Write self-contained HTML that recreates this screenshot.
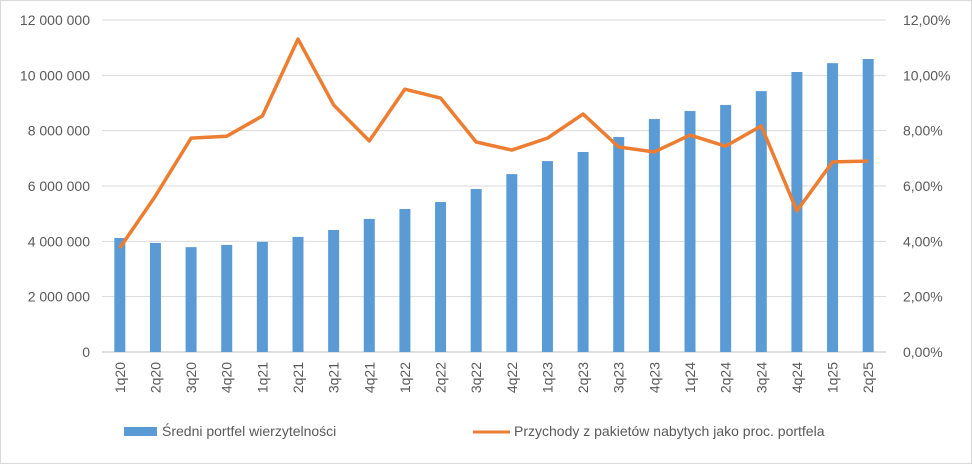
<!DOCTYPE html>
<html><head><meta charset="utf-8"><style>
html,body{margin:0;padding:0;background:#fff}
svg{display:block;font-family:"Liberation Sans",sans-serif}
</style></head><body>
<svg id="chart" width="972" height="464" viewBox="0 0 972 464">
<rect x="0.5" y="0.5" width="971" height="463" fill="#fff" stroke="#d9d9d9"/>
<g id="grid"></g>
<g id="bars"></g>
<g id="line"></g>
<g id="yl"></g>
<g id="yr"></g>
<g id="xl"></g>
<g>
<g><rect x="124" y="427" width="33" height="9" fill="#5b9bd5"/><text x="162" y="436" font-size="14" fill="#595959">Średni portfel wierzytelności</text></g>
<g><line x1="473" y1="432" x2="510" y2="432" stroke="#ed7d31" stroke-width="3"/><text x="514" y="436" font-size="14" fill="#595959">Przychody z pakietów nabytych jako proc. portfela</text></g>
</g>
</svg>
<script>
const categories=["1q20","2q20","3q20","4q20","1q21","2q21","3q21","4q21","1q22","2q22","3q22","4q22","1q23","2q23","3q23","4q23","1q24","2q24","3q24","4q24","1q25","2q25"];
const portfolio=[4120000,3940000,3790000,3870000,3980000,4160000,4410000,4810000,5170000,5420000,5890000,6430000,6900000,7230000,7770000,8420000,8710000,8930000,9430000,10120000,10440000,10590000];
const revenuePct=[3.76,5.64,7.73,7.8,8.53,11.31,8.93,7.63,9.5,9.18,7.59,7.3,7.73,8.6,7.41,7.23,7.84,7.44,8.17,5.1,6.87,6.9];
const leftTicks=[0,2000000,4000000,6000000,8000000,10000000,12000000];
const leftLabels=["0","2 000 000","4 000 000","6 000 000","8 000 000","10 000 000","12 000 000"];
const rightTicks=[0,2,4,6,8,10,12];
const rightLabels=["0,00%","2,00%","4,00%","6,00%","8,00%","10,00%","12,00%"];
const NS="http://www.w3.org/2000/svg";
const X0=102,X1=886,Y0=352,Y1=20;
const step=(X1-X0)/categories.length;
const xc=i=>X0+step*(i+0.5);
const yL=v=>Y0-(v/12000000)*(Y0-Y1);
const yR=v=>Y0-(v/12)*(Y0-Y1);
function mk(tag,attrs,parent){const e=document.createElementNS(NS,tag);for(const k in attrs)e.setAttribute(k,attrs[k]);document.getElementById(parent).appendChild(e);return e;}
leftTicks.forEach((t,i)=>{
 const g=mk('line',{x1:X0,x2:X1,y1:yL(t),y2:yL(t),stroke:i===0?'#bfbfbf':'#d9d9d9','stroke-width':1},'grid');
 
 
 const l=mk('text',{x:90,y:yL(t)+5,'text-anchor':'end','font-size':14,fill:'#595959'},'yl');
 l.textContent=leftLabels[i];
 
 
});
rightTicks.forEach((t,i)=>{
 const l=mk('text',{x:903,y:yR(t)+5,'font-size':14,fill:'#595959'},'yr');
 l.textContent=rightLabels[i];
 
 
});
portfolio.forEach((v,i)=>{
 const b=mk('rect',{x:xc(i)-5.5,y:yL(v),width:11,height:Y0-yL(v),fill:'#5b9bd5'},'bars');
 
 
});
const pl=mk('polyline',{points:revenuePct.map((v,i)=>xc(i)+','+yR(v)).join(' '),fill:'none',stroke:'#ed7d31','stroke-width':3.5,'stroke-linejoin':'round'},'line');


categories.forEach((c,i)=>{
 const t=mk('text',{transform:'translate('+(xc(i)+5)+',362) rotate(-90)','text-anchor':'end','font-size':14,fill:'#595959'},'xl');
 t.textContent=c;
 
 
});
</script>
</body></html>
